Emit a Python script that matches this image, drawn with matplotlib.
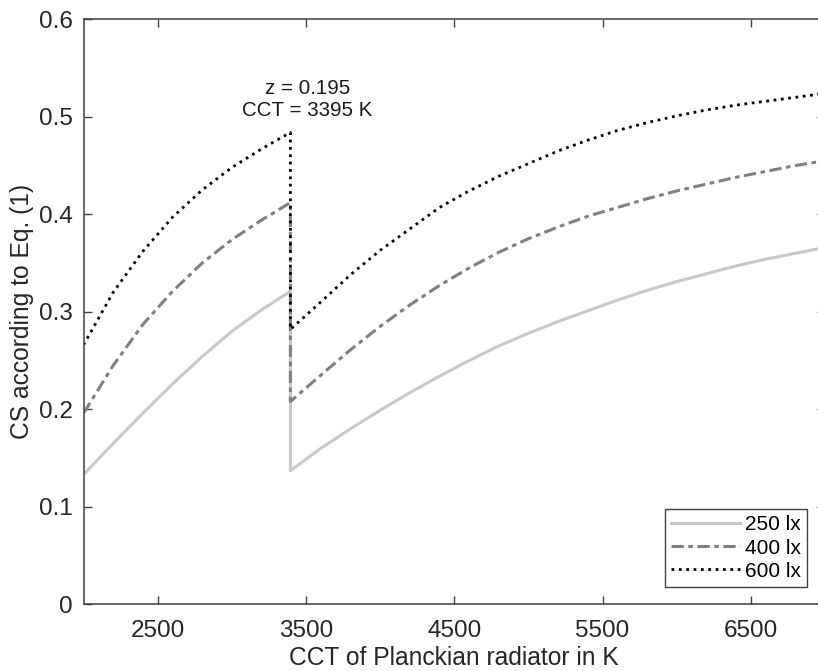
import matplotlib
matplotlib.use("Agg")
import matplotlib.pyplot as plt

plt.rcParams["font.family"] = ["Liberation Sans", "DejaVu Sans"]

# CCT in K; each series has a step at the switching point 3395 K
cct = [2000, 2200, 2400, 2600, 2800, 3000, 3200, 3395,
       3395, 3600, 3800, 4000, 4200, 4400, 4600, 4800, 5000, 5200,
       5400, 5600, 5800, 6000, 6200, 6400, 6600, 6800, 7000]

cs_250 = [0.133, 0.165, 0.196, 0.226, 0.254, 0.280, 0.302, 0.321,
          0.137, 0.160, 0.180, 0.199, 0.217, 0.234, 0.250, 0.265, 0.278, 0.290,
          0.301, 0.312, 0.322, 0.331, 0.339, 0.347, 0.354, 0.360, 0.366]

cs_400 = [0.196, 0.245, 0.287, 0.321, 0.350, 0.374, 0.394, 0.412,
          0.208, 0.235, 0.261, 0.285, 0.307, 0.327, 0.345, 0.361, 0.375, 0.387,
          0.398, 0.407, 0.416, 0.424, 0.431, 0.438, 0.444, 0.450, 0.455]

cs_600 = [0.266, 0.320, 0.362, 0.397, 0.425, 0.448, 0.467, 0.484,
          0.282, 0.310, 0.338, 0.363, 0.385, 0.407, 0.424, 0.439, 0.452, 0.465,
          0.476, 0.486, 0.494, 0.501, 0.507, 0.512, 0.516, 0.520, 0.524]

x_ticks = [2500, 3500, 4500, 5500, 6500]
y_ticks = [0, 0.1, 0.2, 0.3, 0.4, 0.5, 0.6]
y_tick_labels = ["0", "0.1", "0.2", "0.3", "0.4", "0.5", "0.6"]

fig = plt.figure(figsize=(8.18, 6.71), dpi=100)
ax = fig.add_axes([0.1021, 0.0994, 0.9065, 0.8718])

ax.plot(cct, cs_250, color="#c8c8c8", linewidth=2.2, label="250 lx")
ax.plot(cct, cs_400, color="#808080", linewidth=2.2, dashes=[4, 1.5, 1.5, 1.5],
        label="400 lx")
ax.plot(cct, cs_600, color="#000000", linewidth=2.0, linestyle=":", label="600 lx")

ax.text(3510, 0.497, "z = 0.195\nCCT = 3395 K", ha="center", va="bottom",
        fontsize=14.8, color="#1a1a1a", linespacing=1.15)

ax.set_xlim(2000, 7000)
ax.set_ylim(0, 0.6)
ax.set_xticks(x_ticks)
ax.set_yticks(y_ticks)
ax.set_yticklabels(y_tick_labels)
ax.tick_params(direction="in", length=6, width=1, top=True, right=True,
               labelsize=17.5, colors="#404040", labelcolor="#262626", pad=8)
ax.tick_params(axis="x", pad=11)
for s in ax.spines.values():
    s.set_color("#404040")
    s.set_linewidth(1.1)

ax.set_xlabel("CCT of Planckian radiator in K", fontsize=17.7, color="#262626",
              labelpad=3)
ax.set_ylabel("CS according to Eq. (1)", fontsize=17.7, color="#262626",
              labelpad=3)

leg = ax.legend(loc="lower right", bbox_to_anchor=(0.976, 0.0296),
                borderaxespad=0, fontsize=15, handlelength=3.3,
                fancybox=False, framealpha=1, edgecolor="#404040",
                borderpad=0.3, labelspacing=0.2, handletextpad=0.25)
leg.get_frame().set_linewidth(1.0)

fig.savefig("out.png", dpi=100)
